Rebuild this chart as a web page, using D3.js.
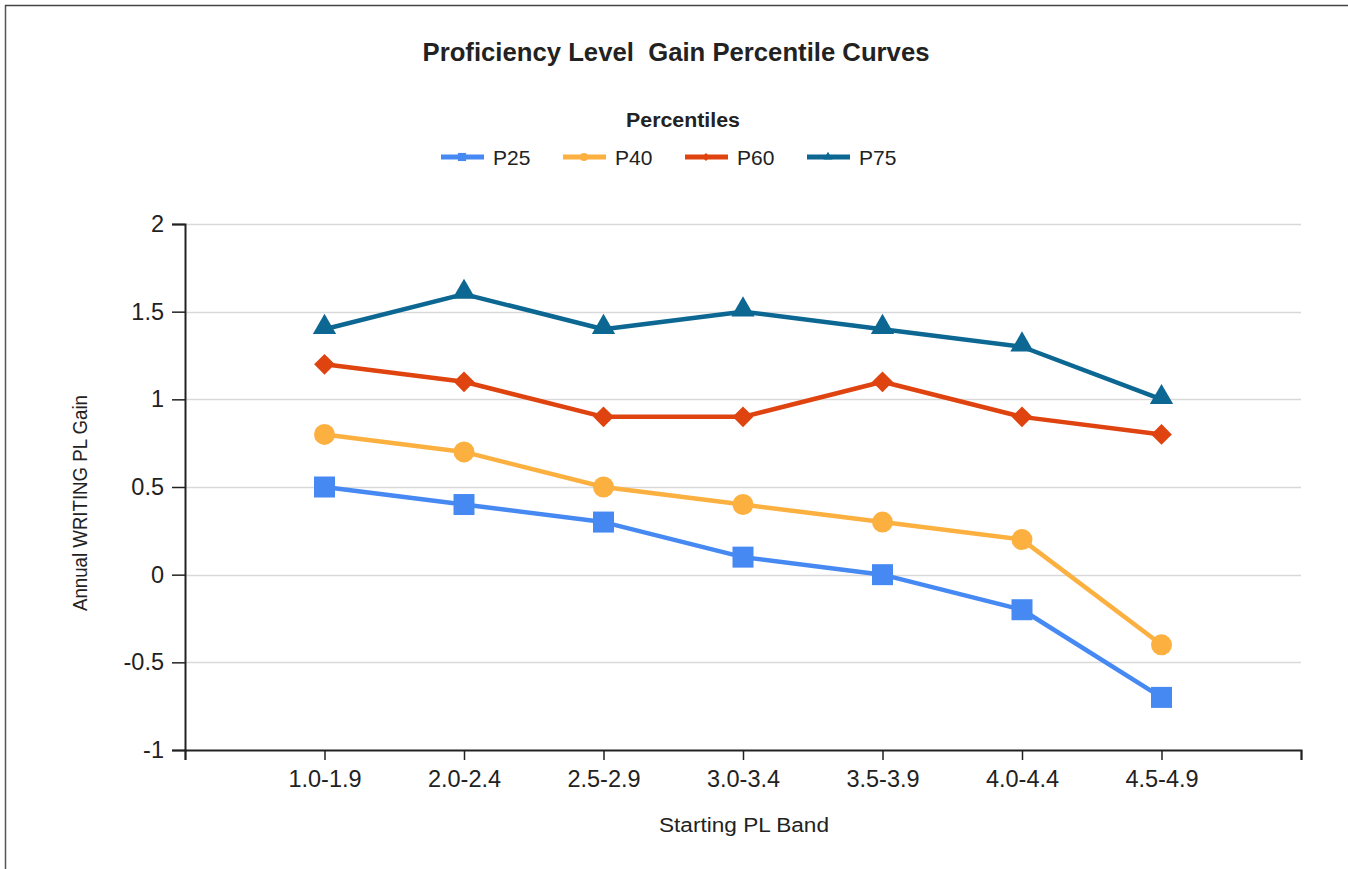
<!DOCTYPE html>
<html><head><meta charset="utf-8">
<script src="https://cdn.jsdelivr.net/npm/d3@7"></script>
<style>html,body{margin:0;padding:0;background:#fff;}svg{display:block;font-family:"Liberation Sans",Arial,sans-serif;}</style>
</head><body>
<svg id="c" width="1348" height="869"></svg>
<script>
const categories = ["1.0-1.9","2.0-2.4","2.5-2.9","3.0-3.4","3.5-3.9","4.0-4.4","4.5-4.9"];
const seriesNames = ["P25","P40","P60","P75"];
const p25 = [0.5, 0.4, 0.3, 0.1, 0.0, -0.2, -0.7];
const p40 = [0.8, 0.7, 0.5, 0.4, 0.3, 0.2, -0.4];
const p60 = [1.2, 1.1, 0.9, 0.9, 1.1, 0.9, 0.8];
const p75 = [1.4, 1.6, 1.4, 1.5, 1.4, 1.3, 1.0];
const yTicks = [-1, -0.5, 0, 0.5, 1, 1.5, 2];
const colors = ["#4689f2", "#fcb040", "#df430f", "#0c6792"];
const seriesVals = [p25, p40, p60, p75];

const svg = d3.select("#c");
const FF = "Liberation Sans, Arial, sans-serif";
// frame (left and top edges)
svg.append("line").attr("x1",5.5).attr("x2",5.5).attr("y1",5).attr("y2",869).attr("stroke","#555").attr("stroke-width",1.5);
svg.append("line").attr("x1",5).attr("x2",1348).attr("y1",5.5).attr("y2",5.5).attr("stroke","#444").attr("stroke-width",1.5);

const L=185, R=1301, T=224, B=750;
const x = d3.scaleLinear().domain([0, categories.length+1]).range([L, R]);
const y = d3.scaleLinear().domain([-1, 2]).range([B, T]);

// gridlines
svg.append("g").selectAll("line").data(yTicks.filter(v=>v>-1)).join("line")
  .attr("x1",L).attr("x2",R).attr("y1",d=>Math.round(y(d))+0.5).attr("y2",d=>Math.round(y(d))+0.5)
  .attr("stroke","#d9d9d9").attr("stroke-width",1.5);

// y axis
const yAxis = svg.append("g").attr("transform",`translate(${L},0)`)
  .call(d3.axisLeft(y).tickValues(yTicks).tickSize(13).tickPadding(8).tickFormat(d=>String(d)));
yAxis.attr("font-size",null).attr("font-family",null);
yAxis.select(".domain").attr("stroke","#222").attr("stroke-width",2);
yAxis.selectAll(".tick line").attr("stroke","#222").attr("stroke-width",1.5);
yAxis.selectAll("text").style("font-size","23.5px").attr("fill","#222").style("font-family",FF);

// x axis
const xTickVals = d3.range(0, categories.length+2);
const xAxis = svg.append("g").attr("transform",`translate(0,${B})`)
  .call(d3.axisBottom(x).tickValues(xTickVals).tickSize(10).tickPadding(10)
    .tickFormat(d => (d>=1 && d<=categories.length) ? categories[d-1] : ""));
xAxis.attr("font-size",null).attr("font-family",null);
xAxis.select(".domain").attr("stroke","#222").attr("stroke-width",2);
xAxis.selectAll(".tick line").attr("stroke","#222").attr("stroke-width",1.5);
xAxis.selectAll("text").style("font-size","23.5px").attr("fill","#222").style("font-family",FF);

// lines and markers
const line = d3.line().x((d,i)=>x(i+1)).y(d=>y(d));
seriesVals.forEach((vals, si) => {
  svg.append("path").datum(vals).attr("d", line).attr("fill","none")
    .attr("stroke", colors[si]).attr("stroke-width", 4.5).attr("stroke-linejoin","round");
});
function marker(si, scale) {
  if (si === 0) return d3.symbol().type(d3.symbolSquare).size(441*scale)();
  if (si === 1) return d3.symbol().type(d3.symbolCircle).size(346*scale)();
  if (si === 2) return d3.symbol().type(d3.symbolSquare).size(215*scale)();
  return d3.symbol().type(d3.symbolTriangle).size(235*scale)();
}
seriesVals.forEach((vals, si) => {
  svg.append("g").selectAll("path").data(vals).join("path")
    .attr("d", marker(si, 1))
    .attr("transform",(d,i)=>`translate(${x(i+1)},${y(d) + (si===3?-2:0)})${si===2?" rotate(45)":""}`)
    .attr("fill", colors[si]);
});

// titles
svg.append("text").attr("x",676).attr("y",61).attr("text-anchor","middle")
  .style("font-size","25px").style("white-space","pre").attr("font-weight","bold").attr("fill","#222")
  .attr("textLength",507).attr("lengthAdjust","spacingAndGlyphs").text("Proficiency Level  Gain Percentile Curves");
svg.append("text").attr("x",683).attr("y",127).attr("text-anchor","middle")
  .style("font-size","20px").attr("font-weight","bold").attr("fill","#222")
  .attr("textLength",114).attr("lengthAdjust","spacingAndGlyphs").text("Percentiles");
svg.append("text").attr("x",744).attr("y",832).attr("text-anchor","middle")
  .style("font-size","20px").attr("fill","#222")
  .attr("textLength",170).attr("lengthAdjust","spacingAndGlyphs").text("Starting PL Band");
svg.append("text").attr("transform","translate(87,503) rotate(-90)").attr("text-anchor","middle")
  .style("font-size","20px").attr("fill","#222")
  .attr("textLength",216).attr("lengthAdjust","spacingAndGlyphs").text("Annual WRITING PL Gain");

// legend
const legX = [441, 563, 685, 807];
seriesNames.forEach((n, si) => {
  const g = svg.append("g").attr("transform",`translate(${legX[si]},157)`);
  g.append("line").attr("x1",0).attr("x2",43).attr("y1",0).attr("y2",0).attr("stroke",colors[si]).attr("stroke-width",5);
  g.append("path").attr("d", marker(si, 0.15)).attr("transform",`translate(21,0)${si===2?" rotate(45)":""}`).attr("fill",colors[si]);
  g.append("text").attr("x",52).attr("y",8).style("font-size","21px").attr("fill","#222").text(n);
});
</script>
</body></html>
